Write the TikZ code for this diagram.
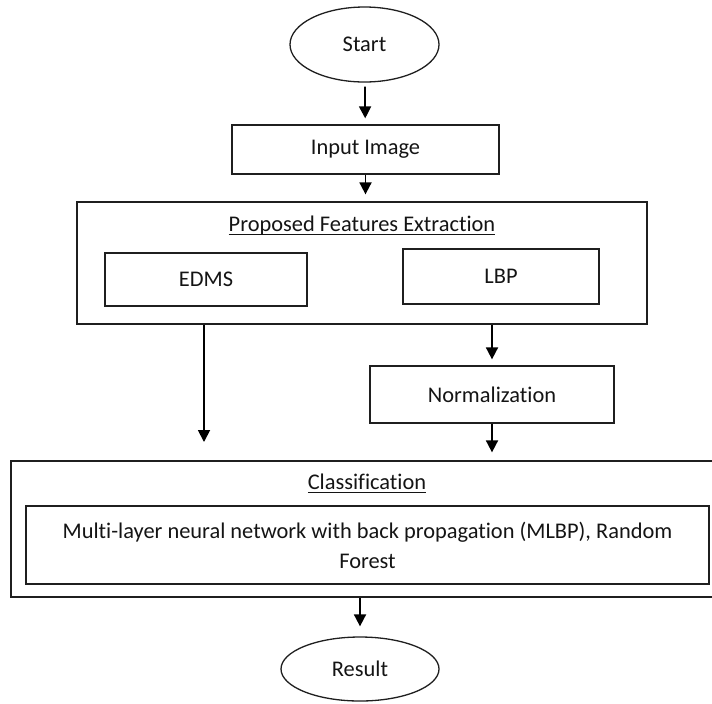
\documentclass[tikz,border=0pt]{standalone}
\usepackage{fontspec}
\setmainfont{Carlito}[Ligatures=CommonOff]
\usetikzlibrary{shapes.geometric,arrows.meta}
\newsavebox\myulbox
\newcommand{\myul}[1]{\sbox\myulbox{#1}\rlap{\rule[-1.7pt]{\wd\myulbox}{0.6pt}}\usebox\myulbox}
\begin{document}
\begin{tikzpicture}[x=0.5pt,y=-0.5pt,
  every node/.style={font=\fontsize{11.2}{13}\selectfont, text=black!92},
  box/.style={draw=black!88, line width=0.65pt, inner sep=0pt, rectangle},
  oval/.style={draw=black!88, line width=0.65pt, ellipse, inner sep=0pt},
  arr/.style={draw=black, line width=0.9pt, -{Triangle[length=6pt,width=6pt]}},
  lbl/.style={inner sep=0pt}]
\useasboundingbox (0,0) rectangle (712,703);
% nodes
\node[oval, minimum width=74.5pt, minimum height=37.5pt] (start) at (364.5,44.5) {Start};
\node[box, minimum width=133.5pt, minimum height=24.5pt] (input) at (365.5,149.5) {Input Image};
\node[box, minimum width=285pt, minimum height=61pt] (prop) at (362,263) {};
\node[lbl, anchor=base] (proptitle) at (362,231.5) {\myul{Proposed Features Extraction}};
\node[box, minimum width=101pt, minimum height=26.5pt] (edms) at (206,279.5) {EDMS};
\node[box, minimum width=98pt, minimum height=27.5pt] (lbp) at (501,276.5) {LBP};
\node[box, minimum width=122pt, minimum height=28.5pt] (norm) at (492,394.5) {Normalization};
\node[box, minimum width=352.5pt, minimum height=68pt] (class) at (363.5,529) {};
\node[lbl, anchor=base] (classtitle) at (367,489.5) {\myul{Classification}};
\node[box, minimum width=341.5pt, minimum height=39pt, align=center,
      font=\fontsize{11.2}{15}\selectfont] (mlbp) at (367.5,545)
      {Multi-layer neural network with back propagation (MLBP), Random\\Forest};
\node[oval, minimum width=79pt, minimum height=32pt] (result) at (360,669) {Result};
% connectors
\coordinate (lend) at (204,442);
\draw[arr, shorten <=2pt, shorten >=3pt] (start) -- (input);
\draw[arr, shorten >=3.5pt] (input.south) -- (input.south |- prop.north);
\draw[arr, shorten >=3pt] (norm.north |- prop.south) -- (norm.north);
\draw[arr] (lend |- prop.south) -- (lend);
\draw[arr, shorten >=4pt] (norm.south) -- (norm.south |- class.north);
\draw[arr, shorten >=5pt] (result.north |- class.south) -- (result.north);
\end{tikzpicture}
\end{document}
